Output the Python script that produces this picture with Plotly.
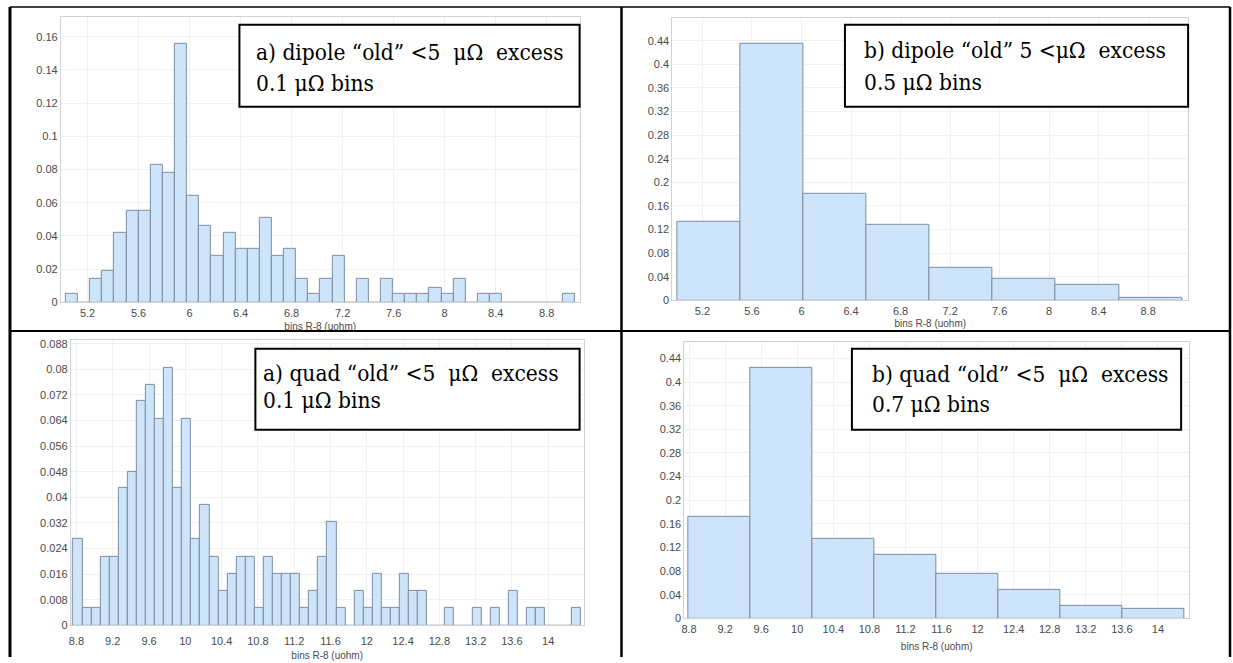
import plotly.graph_objects as go

W, H = 1233, 663

# ---- histogram data (normalised frequency per bin) ----
dip_a_start, dip_a_width = 5.03, 0.095
dip_a_freq = [0.005, 0, 0.014, 0.019, 0.042, 0.055, 0.055, 0.083, 0.078, 0.156,
              0.064, 0.046, 0.028, 0.042, 0.032, 0.032, 0.051, 0.028, 0.032, 0.014,
              0.005, 0.014, 0.028, 0, 0.014, 0, 0.014, 0.005, 0.005, 0.005,
              0.009, 0.005, 0.014, 0, 0.005, 0.005, 0, 0, 0, 0, 0, 0.005]

dip_b_start, dip_b_width = 5.0, 0.509
dip_b_freq = [0.133, 0.435, 0.18, 0.128, 0.056, 0.037, 0.027, 0.005]

quad_a_start, quad_a_width = 8.765, 0.1
quad_a_freq = [0.027, 0.0054, 0.0054, 0.0215, 0.0215, 0.043, 0.048, 0.07, 0.075, 0.0645,
               0.0806, 0.043, 0.0645, 0.027, 0.0376, 0.0215, 0.0108, 0.016, 0.0215, 0.0215,
               0.0054, 0.0215, 0.016, 0.016, 0.016, 0.0054, 0.0108, 0.0215, 0.0323, 0.0054,
               0, 0.0108, 0.0054, 0.016, 0.0054, 0.0054, 0.016, 0.0108, 0.0108, 0,
               0, 0.0054, 0, 0, 0.0054, 0, 0.0054, 0, 0.0108, 0,
               0.0054, 0.0054, 0, 0, 0, 0.0054]

quad_b_start, quad_b_width = 8.79, 0.688
quad_b_freq = [0.172, 0.424, 0.134, 0.107, 0.076, 0.048, 0.022, 0.016]

x_title = "bins R-8 (uohm)"
labels = [
    ("a) dipole \u201cold\u201d &lt;5\u00a0 \u03bc\u03a9\u00a0 excess", "0.1 \u03bc\u03a9 bins"),
    ("b) dipole \u201cold\u201d 5 &lt;\u03bc\u03a9\u00a0 excess", "0.5 \u03bc\u03a9 bins"),
    ("a) quad \u201cold\u201d &lt;5\u00a0 \u03bc\u03a9\u00a0 excess", "0.1 \u03bc\u03a9 bins"),
    ("b) quad \u201cold\u201d &lt;5\u00a0 \u03bc\u03a9\u00a0 excess", "0.7 \u03bc\u03a9 bins"),
]

# ---- panel geometry (pixels) ----
panels = [
    dict(start=dip_a_start, width=dip_a_width, freq=dip_a_freq,
         px=(58, 578), py=(15, 304), xr=[4.991, 9.058], yr=[0, 0.172], dy=0.02,
         box=(237, 23, 578, 106), tx=252, ty=(51, 82), standoff=5, lbl=0),
    dict(start=dip_b_start, width=dip_b_width, freq=dip_b_freq,
         px=(671, 1188), py=(16, 302), xr=[4.957, 9.122], yr=[0, 0.479], dy=0.04,
         box=(844, 23, 1188, 106), tx=861, ty=(49, 81), standoff=4, lbl=0),
    dict(start=quad_a_start, width=quad_a_width, freq=quad_a_freq,
         px=(68, 582), py=(342, 631), xr=[8.738, 14.39], yr=[0, 0.0892], dy=0.008,
         box=(253, 351, 578, 433), tx=259, ty=(376, 403), standoff=6, lbl=5),
    dict(start=quad_b_start, width=quad_b_width, freq=quad_b_freq,
         px=(683, 1189), py=(344, 624), xr=[8.748, 14.346], yr=[0, 0.468], dy=0.04,
         box=(851, 351, 1181, 433), tx=869, ty=(377, 407), standoff=9, lbl=0),
]


def fx(p):
    return p / W


def fy(p):
    return 1 - p / H


fig = go.Figure()
layout = dict(width=W, height=H, margin=dict(l=0, r=0, t=0, b=0),
              paper_bgcolor="white", plot_bgcolor="white", showlegend=False,
              bargap=0, shapes=[], annotations=[])

sans = "Liberation Sans"
serif = "DejaVu Serif Condensed, DejaVu Serif"
tick_font = dict(family=sans, size=11, color="#4a4a4a")

for i, p in enumerate(panels, start=1):
    xa = "x" if i == 1 else f"x{i}"
    ya = "y" if i == 1 else f"y{i}"
    centers = [p["start"] + (k + 0.5) * p["width"] for k in range(len(p["freq"]))]
    fig.add_trace(go.Bar(
        x=centers, y=p["freq"], width=[p["width"]] * len(centers),
        marker=dict(color="#cde4fb", line=dict(color="#7d8da0", width=1)),
        xaxis=xa, yaxis=ya, hoverinfo="x+y"))

    layout[f"xaxis{'' if i == 1 else i}"] = dict(
        domain=[fx(p["px"][0]), fx(p["px"][1])], anchor=ya, range=p["xr"],
        tickmode="linear", tick0=0, dtick=0.4, showgrid=True, gridcolor="#f1f1f1",
        zeroline=False, showline=True, mirror=True, linecolor="#d2d2d2", linewidth=1,
        ticks="", tickfont=tick_font, ticklabelstandoff=p["lbl"],
        title=dict(text=x_title, font=dict(family=sans, size=10, color="#4a4a4a"),
                   standoff=p["standoff"]))
    layout[f"yaxis{'' if i == 1 else i}"] = dict(
        domain=[fy(p["py"][1]), fy(p["py"][0])], anchor=xa, range=p["yr"],
        tickmode="linear", tick0=0, dtick=p["dy"], showgrid=True, gridcolor="#f1f1f1",
        zeroline=False, showline=True, mirror=True, linecolor="#d2d2d2", linewidth=1,
        ticks="", tickfont=tick_font)

    # caption box
    x0, y0, x1, y1 = p["box"]
    layout["shapes"].append(dict(type="rect", xref="paper", yref="paper",
                                 x0=fx(x0), x1=fx(x1), y0=fy(y1), y1=fy(y0),
                                 line=dict(color="black", width=2), fillcolor="white",
                                 layer="above"))
    for line_text, ly in zip(labels[i - 1], p["ty"]):
        layout["annotations"].append(dict(
            text=line_text, xref="paper", yref="paper", x=fx(p["tx"]), y=fy(ly),
            xanchor="left", yanchor="middle", showarrow=False,
            font=dict(family=serif, size=22.5, color="black")))

# table rules around the four cells
rules = [
    (7, 5, 1230, 5, 1.5),
    (7, 333, 1230, 333, 2),
    (7, 5, 7, 663, 3),
    (620, 5, 620, 663, 2.5),
    (1230, 5, 1230, 663, 2.5),
]
for x0, y0, x1, y1, w in rules:
    layout["shapes"].append(dict(type="line", xref="paper", yref="paper",
                                 x0=fx(x0), x1=fx(x1), y0=fy(y0), y1=fy(y1),
                                 line=dict(color="black", width=w), layer="above"))

fig.update_layout(**layout)
fig.write_html("out.html")
